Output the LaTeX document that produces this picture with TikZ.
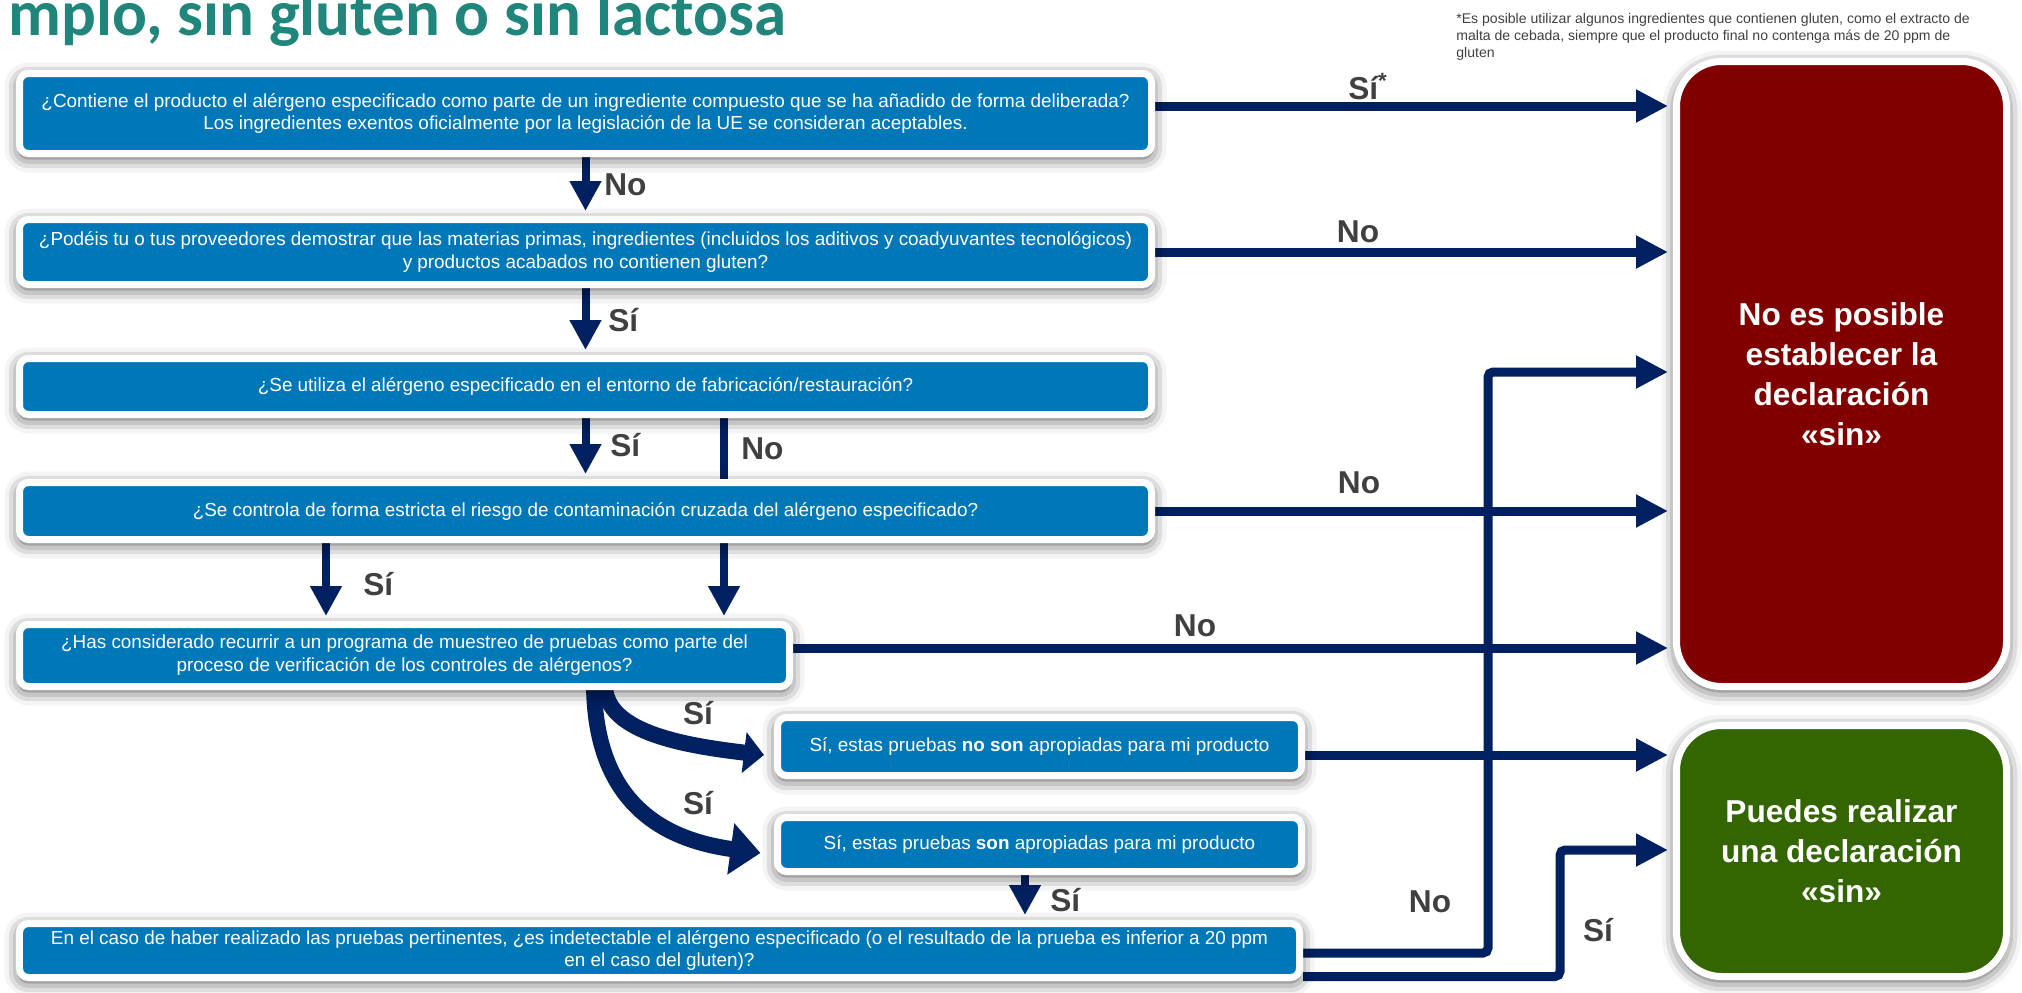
\documentclass[tikz,border=0pt]{standalone}
\usepackage{fontspec}
\setmainfont{Liberation Sans}
\newfontfamily\titlefont{Carlito}
\usetikzlibrary{arrows.meta,positioning,shadows.blur}
\definecolor{boxblue}{HTML}{0077B6}
\definecolor{arrownavy}{HTML}{002060}
\definecolor{stopred}{HTML}{800000}
\definecolor{okgreen}{HTML}{336600}
\definecolor{labelgray}{HTML}{404040}
\definecolor{titleteal}{HTML}{20857A}
\pgfdeclarelayer{bg}
\pgfsetlayers{bg,main}

\begin{document}
\begin{tikzpicture}[
    every node/.style={font=\fontsize{10.75}{13}\selectfont},
    qbox/.style={draw=white,line width=0.14cm,fill=boxblue,rounded corners=0.18cm,text=white,align=center,inner sep=0pt,
      blur shadow={shadow xshift=0cm,shadow yshift=-0.08cm,shadow blur radius=0.3cm,shadow opacity=72}},
    endbox/.style={qbox,rounded corners=0.9cm,font=\fontsize{18}{22.7}\selectfont\bfseries,minimum width=6.6cm},
    lbl/.style={font=\fontsize{18}{20}\selectfont\bfseries,text=labelgray,inner sep=0pt},
    harrow/.style={arrownavy,line width=0.18cm,-{Triangle[length=0.64cm,width=0.62cm]}},
    varrow/.style={arrownavy,line width=0.16cm,-{Triangle[length=0.6cm,width=0.6cm]}},
    carrow/.style={arrownavy,line width=0.32cm}
  ]
    \useasboundingbox (0,0) rectangle (40.44,-19.86);

    \node[font=\titlefont\fontsize{37}{37}\selectfont\bfseries,text=titleteal,anchor=base west,inner sep=0pt] (title) at (0.16,-0.70) {mplo, sin gluten o sin lactosa};
    \node[font=\fontsize{8}{9.8}\selectfont,text=labelgray,align=left,anchor=north west,inner sep=0pt] (note) at (29.12,-0.26)
      {*Es posible utilizar algunos ingredientes que contienen gluten, como el extracto de\\malta de cebada, siempre que el producto final no contenga más de 20 ppm de\\gluten};

    \node[qbox,minimum width=22.64cm,minimum height=1.60cm] (q1) at (11.71,-2.27)
      {¿Contiene el producto el alérgeno especificado como parte de un ingrediente compuesto que se ha añadido de forma deliberada?\\Los ingredientes exentos oficialmente por la legislación de la UE se consideran aceptables.};
    \node[qbox,minimum width=22.64cm,minimum height=1.30cm] (q2) at (11.71,-5.04)
      {¿Podéis tu o tus proveedores demostrar que las materias primas, ingredientes (incluidos los aditivos y coadyuvantes tecnológicos)\\y productos acabados no contienen gluten?};
    \node[qbox,minimum width=22.64cm,minimum height=1.12cm] (q3) at (11.71,-7.73)
      {¿Se utiliza el alérgeno especificado en el entorno de fabricación/restauración?};
    \node[qbox,minimum width=22.64cm,minimum height=1.14cm] (q4) at (11.71,-10.22)
      {¿Se controla de forma estricta el riesgo de contaminación cruzada del alérgeno especificado?};
    \node[qbox,minimum width=15.40cm,minimum height=1.24cm] (q5) at (8.09,-13.11)
      {¿Has considerado recurrir a un programa de muestreo de pruebas como parte del\\proceso de verificación de los controles de alérgenos?};
    \node[qbox,minimum width=10.48cm,minimum height=1.16cm] (r1) at (20.79,-14.93)
      {Sí, estas pruebas \textbf{no son} apropiadas para mi producto};
    \node[qbox,minimum width=10.48cm,minimum height=1.08cm] (r2) at (20.79,-16.89)
      {Sí, estas pruebas \textbf{son} apropiadas para mi producto};
    \node[qbox,minimum width=25.60cm,minimum height=1.08cm] (q6) at (13.19,-19.01)
      {En el caso de haber realizado las pruebas pertinentes, ¿es indetectable el alérgeno especificado (o el resultado de la prueba es inferior a 20 ppm\\en el caso del gluten)?};

    \node[endbox,fill=stopred,minimum height=12.5cm] (stop) at (36.83,-7.48) {No es posible\\establecer la\\declaración\\«sin»};
    \node[endbox,fill=okgreen,minimum height=5.02cm] (ok) at (36.83,-17.02) {Puedes realizar\\una declaración\\«sin»};

    \coordinate (noturn) at (29.76,-7.44);
    \coordinate (siturn) at (31.2,-17.0);
    \coordinate (nx) at (14.48,0);
    \coordinate (sx) at (6.52,0);
    \coordinate (vx) at (20.5,0);

    \begin{pgfonlayer}{bg}
      \draw[harrow] ([yshift=0.15cm]q1.east) -- ([xshift=-0.1cm,yshift=0.15cm]q1.east -| stop.west);
      \draw[harrow] (q2.east) -- ([xshift=-0.1cm]q2.east -| stop.west);
      \draw[harrow] (q4.east) -- ([xshift=-0.1cm]q4.east -| stop.west);
      \draw[harrow] ([yshift=0.15cm]q5.east) -- ([xshift=-0.1cm,yshift=0.15cm]q5.east -| stop.west);
      \draw[harrow] ([yshift=-0.17cm]r1.east) -- ([xshift=-0.1cm,yshift=-0.17cm]r1.east -| ok.west);
      \draw[harrow,rounded corners=0.1cm] ([yshift=-0.05cm]q6.east) -| (noturn) -- ([xshift=-0.1cm]noturn -| stop.west);
      \draw[harrow,rounded corners=0.1cm] ([yshift=0.09cm]q6.south east) -| (siturn) -- ([xshift=-0.1cm]siturn -| ok.west);

      \draw[varrow] (q1.south) -- ([yshift=0.1cm]q2.north);
      \draw[varrow] (q2.south) -- ([yshift=0.1cm]q3.north);
      \draw[varrow] (q3.south) -- ([yshift=0.1cm]q4.north);
      \draw[varrow] (q3.south -| nx) -- ([yshift=0.1cm]q5.north -| nx);
      \draw[varrow] (q4.south -| sx) -- ([yshift=0.1cm]q5.north -| sx);
      \draw[varrow] (r2.south -| vx) -- ([yshift=0.1cm]q6.north -| vx);

      \draw[carrow,-{Triangle[length=0.4cm,width=0.8cm]}] ([xshift=4.01cm,yshift=0.1cm]q5.south)
        .. controls +(0,-0.97) and +(-1.5,0.18) .. ([shift={(-0.2,-0.17)}]r1.west);
      \draw[carrow,-{Triangle[length=0.6cm,width=1.0cm]}] ([xshift=3.79cm,yshift=0.1cm]q5.south)
        .. controls +(0.02,-2.4) and +(-1.9,0.26) .. ([shift={(-0.27,-0.17)}]r2.west);
    \end{pgfonlayer}

    \node[lbl] (l1) at (27.36,-1.74) {Sí\textsuperscript{*}};
    \node[lbl,anchor=west] (l2) at (12.08,-3.7) {No};
    \node[lbl] (l3) at (27.16,-4.64) {No};
    \node[lbl,anchor=west] (l4) at (12.16,-6.4) {Sí};
    \node[lbl,anchor=west] (l5) at (12.2,-8.9) {Sí};
    \node[lbl,anchor=west] (l6) at (14.82,-8.98) {No};
    \node[lbl] (l7) at (27.18,-9.66) {No};
    \node[lbl,anchor=west] (l8) at (7.26,-11.68) {Sí};
    \node[lbl] (l9) at (23.9,-12.52) {No};
    \node[lbl] (l10) at (13.96,-14.26) {Sí};
    \node[lbl] (l11) at (13.96,-16.06) {Sí};
    \node[lbl,anchor=west] (l12) at (21.0,-18.0) {Sí};
    \node[lbl] (l13) at (28.6,-18.04) {No};
    \node[lbl] (l14) at (31.96,-18.6) {Sí};
  \end{tikzpicture}
\end{document}
